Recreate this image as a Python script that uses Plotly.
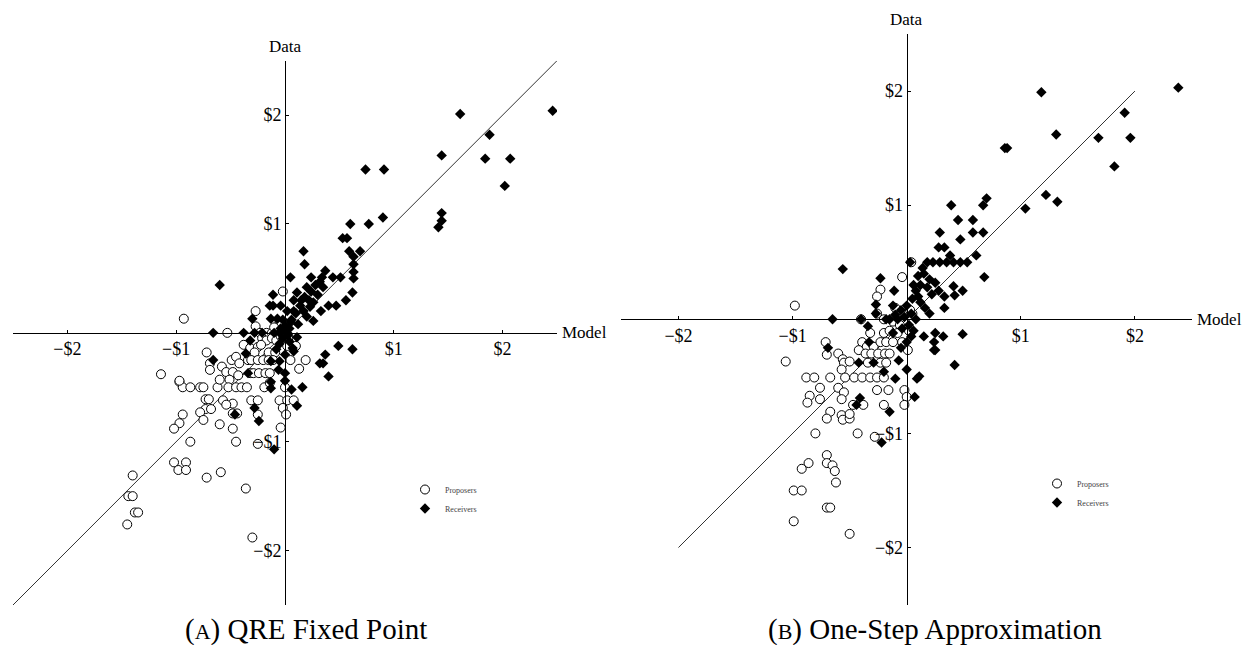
import plotly.graph_objects as go

# ---------------- data (Model, Data) ----------------
a_receivers = [
    (2.46, 2.04), (1.61, 2.01), (1.88, 1.82), (1.44, 1.63), (1.84, 1.60), (2.07, 1.60),
    (2.02, 1.35), (0.74, 1.50), (0.91, 1.50), (1.44, 1.10), (1.44, 1.03), (1.41, 0.97),
    (0.90, 1.06), (0.60, 1.00), (0.77, 1.00),
    (0.53, 0.87), (0.57, 0.87), (0.17, 0.75), (0.59, 0.75), (0.69, 0.75), (0.63, 0.70),
    (0.18, 0.63), (0.63, 0.63), (0.63, 0.56), (0.63, 0.50), (0.37, 0.57), (0.05, 0.51),
    (0.24, 0.51), (0.34, 0.51), (0.44, 0.51), (0.51, 0.51), (-0.60, 0.44), (-0.11, 0.35),
    (0.62, 0.37), (0.56, 0.30), (0.11, 0.37), (0.20, 0.42), (0.28, 0.44), (0.32, 0.47),
    (0.35, 0.42), (0.24, 0.38), (0.30, 0.35), (-0.14, 0.25), (-0.11, 0.25), (-0.04, 0.25),
    (0.40, 0.25), (0.47, 0.25), (0.33, 0.20), (0.26, 0.11), (-0.13, 0.13), (-0.07, 0.13),
    (-0.30, 0.13),
    (0.08, 0.30), (0.14, 0.25), (0.02, 0.20), (0.10, 0.18), (0.17, 0.20), (0.23, 0.24),
    (0.20, 0.15), (0.05, 0.10), (0.00, 0.06), (-0.04, 0.04), (0.00, 0.02), (0.03, -0.02),
    (0.06, 0.12), (0.12, 0.08), (0.15, 0.30), (0.18, 0.33), (0.22, 0.30), (0.26, 0.28),
    (0.08, 0.20), (-0.02, 0.12), (0.02, 0.00), (-0.05, 0.00), (0.04, 0.04),
    (-0.66, 0.00), (-0.38, 0.00), (-0.28, 0.00), (-0.21, 0.00), (-0.10, 0.00),
    (0.11, -0.04), (0.49, -0.12), (0.62, -0.15), (0.37, -0.20), (0.32, -0.28), (0.35, -0.28),
    (0.40, -0.40), (-0.66, -0.25), (-0.36, -0.19), (-0.34, -0.37), (-0.32, -0.07),
    (-0.13, -0.26), (-0.05, -0.26), (-0.06, -0.34), (0.00, -0.37), (-0.13, -0.45),
    (-0.13, -0.51), (0.00, -0.44), (0.06, -0.52), (0.16, -0.50), (0.11, -0.67),
    (-0.28, -0.69), (-0.46, -0.75), (-0.24, -0.81), (-0.10, -1.07), (0.07, -0.14),
    (0.08, -0.17), (-0.05, -0.10), (-0.08, -0.15), (0.00, -0.20), (0.04, -0.08), (-0.02, -0.05),
]

a_proposers = [
    (-0.93, 0.13), (-0.53, 0.00), (-0.27, 0.20), (-0.02, 0.38), (-0.27, 0.06), (-0.23, 0.00),
    (-0.17, 0.00), (-0.12, 0.00), (-0.08, 0.00), (-0.21, -0.05), (-0.17, -0.07), (-0.12, -0.05),
    (-0.08, -0.07), (-0.38, -0.11), (-0.32, -0.14), (-0.25, -0.13), (-0.22, -0.11),
    (-0.28, -0.18), (-0.15, -0.18), (-0.09, -0.18), (-0.72, -0.18), (-0.69, -0.28),
    (-0.69, -0.34), (-0.58, -0.31), (-0.49, -0.25), (-0.45, -0.22), (-0.42, -0.28),
    (-0.34, -0.25), (-0.31, -0.25), (-0.25, -0.25), (-0.20, -0.25), (-0.15, -0.25),
    (-0.11, -0.25), (0.05, -0.25), (0.13, -0.33), (0.19, -0.25), (-0.54, -0.36),
    (-0.48, -0.36), (-0.43, -0.39), (-0.51, -0.43), (-0.32, -0.37), (-0.29, -0.37),
    (-0.24, -0.37), (-0.18, -0.37), (-0.14, -0.37),
    (-0.97, -0.45), (-0.94, -0.50), (-0.87, -0.50), (-0.78, -0.50), (-0.75, -0.50),
    (-0.62, -0.50), (-0.52, -0.50), (-0.45, -0.50), (-0.40, -0.50), (-0.35, -0.50),
    (-0.60, -0.43), (-0.19, -0.50), (-0.14, -0.46), (0.00, -0.50),
    (-0.73, -0.61), (-0.70, -0.61), (-0.57, -0.62), (-0.48, -0.65), (-0.54, -0.66),
    (-0.31, -0.62), (-0.25, -0.62), (-0.05, -0.62), (0.02, -0.62), (0.08, -0.62),
    (-0.73, -0.70), (-0.68, -0.70), (-0.78, -0.73), (-0.75, -0.80), (-0.94, -0.75),
    (-0.97, -0.83), (-1.02, -0.88), (-0.87, -1.00), (-0.60, -0.84), (-0.48, -0.74),
    (-0.44, -0.74), (-0.48, -0.88), (-0.45, -1.00), (-0.25, -0.75), (-0.02, -0.69),
    (0.01, -0.75), (-0.04, -0.87), (-0.25, -1.02), (-1.14, -0.38), (-0.97, -0.44),
    (-1.02, -1.19), (-0.91, -1.19), (-0.98, -1.26), (-0.91, -1.26), (-0.72, -1.33),
    (-0.59, -1.28), (-0.36, -1.43), (-1.40, -1.31), (-1.44, -1.50), (-1.40, -1.50),
    (-1.38, -1.65), (-1.35, -1.65), (-1.45, -1.76), (-0.30, -1.88),
    (-0.05, 0.10), (-0.10, 0.05), (0.03, -0.05), (-0.04, -0.03), (0.10, -0.12), (0.02, -0.12),
]

b_receivers = [
    (2.38, 2.03), (1.18, 1.99), (1.91, 1.81), (1.31, 1.62), (1.68, 1.59), (1.96, 1.59),
    (1.82, 1.34), (0.86, 1.50), (0.88, 1.50), (1.22, 1.09), (1.32, 1.03), (1.04, 0.97),
    (0.39, 1.00), (0.70, 1.06), (0.67, 1.00),
    (0.45, 0.87), (0.58, 0.87), (0.29, 0.76), (0.47, 0.70), (0.58, 0.76), (0.67, 0.76),
    (0.28, 0.63), (0.33, 0.63), (0.38, 0.56), (0.61, 0.56), (0.18, 0.50), (0.23, 0.50),
    (0.29, 0.50), (0.35, 0.50), (0.41, 0.50), (0.47, 0.50), (0.53, 0.50), (0.03, 0.50),
    (-0.56, 0.44), (-0.23, 0.36), (0.68, 0.37), (0.49, 0.25), (0.41, 0.29), (0.42, 0.21),
    (0.33, 0.20), (0.33, 0.10), (-0.11, 0.25), (-0.27, 0.13), (-0.27, 0.05),
    (0.10, 0.38), (0.15, 0.40), (0.20, 0.35), (0.25, 0.32), (0.12, 0.30), (0.18, 0.28),
    (0.08, 0.25), (0.22, 0.22), (0.28, 0.25), (0.05, 0.18), (0.12, 0.15), (0.16, 0.10),
    (0.00, 0.12), (-0.05, 0.08), (-0.02, 0.02), (0.04, 0.05), (0.08, 0.00), (-0.10, 0.04),
    (-0.08, 0.00), (0.02, -0.05), (0.06, -0.10), (-0.04, -0.08), (0.10, 0.20), (0.14, 0.45),
    (0.06, 0.30), (-0.12, 0.12), (0.20, 0.05),
    (-0.65, 0.00), (-0.40, 0.00), (-0.18, 0.00), (-0.15, 0.00),
    (-0.34, -0.06), (0.15, -0.15), (0.25, -0.12), (0.32, -0.15), (0.49, -0.13), (0.24, -0.20),
    (0.24, -0.27), (0.25, -0.27), (0.42, -0.40), (-0.69, -0.25), (-0.33, -0.20),
    (-0.42, -0.38), (-0.29, -0.38), (-0.20, -0.46), (-0.10, -0.52), (0.00, -0.44),
    (-0.07, -0.36), (0.09, -0.52), (0.11, -0.50), (0.07, -0.68), (-0.41, -0.69),
    (-0.44, -0.75), (-0.15, -0.81), (-0.22, -1.08), (0.00, -0.20), (-0.05, -0.25),
    (0.04, -0.15), (-0.12, -0.12),
]

b_proposers = [
    (-0.98, 0.12), (0.04, 0.50), (-0.04, 0.37), (-0.23, 0.26), (-0.26, 0.20), (-0.26, 0.05),
    (-0.40, 0.00), (-0.20, 0.00), (-0.12, -0.02), (-0.32, -0.12), (-0.20, -0.12),
    (-0.06, -0.05), (-0.71, -0.20), (-0.70, -0.31), (-0.60, -0.30), (-0.56, -0.35),
    (-0.55, -0.38), (-0.50, -0.37), (-0.39, -0.20), (-0.35, -0.24), (-0.29, -0.24),
    (-0.23, -0.20), (-0.18, -0.20), (-0.12, -0.20), (-0.04, -0.20), (0.01, -0.27),
    (-0.42, -0.27), (-0.36, -0.30), (-0.31, -0.30), (-0.25, -0.30), (-0.19, -0.30),
    (-0.15, -0.30), (-0.34, -0.38), (-0.23, -0.38), (-0.18, -0.38),
    (-0.88, -0.51), (-0.81, -0.51), (-0.67, -0.51), (-0.57, -0.44), (-0.54, -0.51),
    (-0.46, -0.51), (-0.39, -0.51), (-0.32, -0.51), (-0.26, -0.51), (-0.20, -0.51),
    (-0.76, -0.60), (-0.85, -0.67), (-0.87, -0.73), (-0.76, -0.70), (-0.60, -0.60),
    (-0.55, -0.64), (-0.57, -0.70), (-0.26, -0.62), (-0.16, -0.62), (-0.02, -0.62),
    (0.00, -0.68), (-0.02, -0.75), (-0.47, -0.75), (-0.38, -0.75), (-0.20, -0.75),
    (-0.67, -0.81), (-0.70, -0.87), (-0.57, -0.84), (-0.56, -0.88), (-0.50, -0.87),
    (-0.50, -0.83), (-0.80, -1.00), (-0.43, -1.00), (-0.28, -1.03), (-1.06, -0.37),
    (-0.70, -1.19), (-0.70, -1.26), (-0.65, -1.28), (-0.63, -1.33), (-0.62, -1.43),
    (-0.86, -1.26), (-0.92, -1.31), (-0.99, -1.50), (-0.92, -1.50), (-0.70, -1.65),
    (-0.67, -1.65), (-0.99, -1.77), (-0.50, -1.88),
    (-0.10, 0.10), (-0.02, 0.05), (0.05, 0.05), (-0.15, -0.10), (-0.08, -0.12),
    (0.02, -0.10), (0.03, 0.08),
]

a_line = [-2.5, 2.5]
b_line = [-2.0, 2.0]
axis_range = [-2.5, 2.5]
tick_vals = [-2, -1, 1, 2]
tick_text = ["\u2212$2", "\u2212$1", "$1", "$2"]
captions = ["(<span style='font-size:22px'>A</span>) QRE Fixed Point",
            "(<span style='font-size:22px'>B</span>) One-Step Approximation"]

SERIF = "Liberation Serif"


def xs(pts):
    return [p[0] for p in pts]


def ys(pts):
    return [p[1] for p in pts]


fig = go.Figure()

panels = [
    ("x", "y", "legend", a_line, a_proposers, a_receivers),
    ("x2", "y2", "legend2", b_line, b_proposers, b_receivers),
]
for xa, ya, lg, line, props, recs in panels:
    fig.add_trace(go.Scatter(x=line, y=line, mode="lines", xaxis=xa, yaxis=ya,
                             line=dict(color="#333333", width=1), showlegend=False,
                             hoverinfo="skip"))
    fig.add_trace(go.Scatter(x=xs(props), y=ys(props), mode="markers", name="Proposers",
                             xaxis=xa, yaxis=ya, legend=lg,
                             marker=dict(symbol="circle", size=9, color="white",
                                         line=dict(color="black", width=1))))
    fig.add_trace(go.Scatter(x=xs(recs), y=ys(recs), mode="markers", name="Receivers",
                             xaxis=xa, yaxis=ya, legend=lg,
                             marker=dict(symbol="diamond", size=8, color="black",
                                         line=dict(color="black", width=0))))

# the page body adds an 8px margin, so the figure is 8px smaller and positions are shifted
OFF = 8
W, H = 1250 - OFF, 645 - OFF
# panel geometry in page pixels: (left, right, top, bottom, origin_x, origin_y)
geo = [(13, 557, 60.7, 605, 285, 332.7), (621.4, 1192, 34, 604.6, 906.7, 319.3)]


def fx(px):
    return (px - OFF) / W


def fy(py):
    return 1 - (py - OFF) / H


axis_common = dict(range=axis_range, showgrid=False, zeroline=False, showline=True,
                   linecolor="black", linewidth=1, ticks="inside", ticklen=3,
                   tickcolor="black", tickvals=tick_vals, ticktext=tick_text,
                   tickfont=dict(family=SERIF, size=18, color="black"), anchor="free")

for i, (l, r, t, b, ox, oy) in enumerate(geo):
    sfx = "" if i == 0 else "2"
    fig.update_layout(**{
        "xaxis" + sfx: dict(axis_common, domain=[fx(l), fx(r)], position=fy(oy)),
        "yaxis" + sfx: dict(axis_common, domain=[fy(b), fy(t)], position=fx(ox)),
    })
    xa, ya = "x" + sfx, "y" + sfx
    fig.add_annotation(x=0, y=axis_range[1], xref=xa, yref=ya, text="Data",
                       showarrow=False, yanchor="bottom", yshift=3,
                       font=dict(family=SERIF, size=17, color="black"))
    fig.add_annotation(x=axis_range[1], y=0, xref=xa, yref=ya, text="Model",
                       showarrow=False, xanchor="left", xshift=3,
                       font=dict(family=SERIF, size=17, color="black"))

fig.add_annotation(x=fx(306), y=fy(629), xref="paper", yref="paper", text=captions[0],
                   showarrow=False, xanchor="center", yanchor="middle",
                   font=dict(family=SERIF, size=29, color="black"))
fig.add_annotation(x=fx(935), y=fy(629), xref="paper", yref="paper", text=captions[1],
                   showarrow=False, xanchor="center", yanchor="middle",
                   font=dict(family=SERIF, size=29, color="black"))

legend_common = dict(xanchor="left", yanchor="top", bgcolor="rgba(0,0,0,0)",
                     font=dict(family=SERIF, size=8, color="#444444"),
                     itemsizing="trace", itemwidth=30, tracegroupgap=0)

fig.update_layout(
    width=W, height=H, margin=dict(l=0, r=0, t=0, b=0),
    paper_bgcolor="white", plot_bgcolor="white", showlegend=True,
    legend=dict(legend_common, x=fx(405), y=fy(475)),
    legend2=dict(legend_common, x=fx(1037), y=fy(469)),
)

fig.write_html("out.html")
